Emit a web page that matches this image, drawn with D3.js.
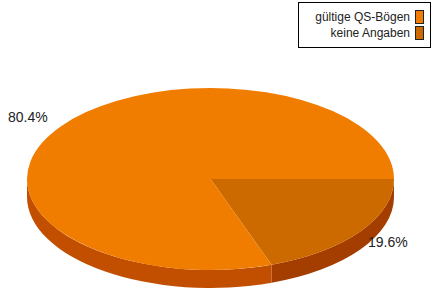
<!DOCTYPE html>
<html>
<head>
<meta charset="utf-8">
<script src="https://cdn.jsdelivr.net/npm/d3@7"></script>
<style>
  body { margin: 0; background: #fff; }
  text { font-family: "Liberation Sans", Arial, sans-serif; fill: #222; }
</style>
</head>
<body>
<svg width="433" height="290"></svg>
<script>
var categories = ["keine Angaben", "gültige QS-Bögen"];
var values = [19.6, 80.4];
var legendOrder = ["gültige QS-Bögen", "keine Angaben"];
var topColors = ["#cc6a00", "#f07d00"];
var sideColors = ["#a33d00", "#c24e00"];

var svg = d3.select("svg"),
    cx = 210.5, cy = 179,
    rx = 183.5, ry = 91,
    depth = 18;

var color = d3.scaleOrdinal().domain(categories).range(topColors);
var side = d3.scaleOrdinal().domain(categories).range(sideColors);

var pie = d3.pie()
  .sort(null)
  .startAngle(Math.PI / 2)
  .endAngle(Math.PI / 2 + 2 * Math.PI)
  .value(d => d.value);

var arcs = pie(categories.map((c, i) => ({ name: c, value: values[i] })));

function pt(a, dy) {
  return [cx + rx * Math.sin(a), cy - ry * Math.cos(a) + (dy || 0)];
}

function topPath(a0, a1) {
  var p0 = pt(a0), p1 = pt(a1), large = (a1 - a0) > Math.PI ? 1 : 0;
  return "M" + cx + "," + cy + "L" + p0 + "A" + rx + "," + ry + " 0 " + large + " 1 " + p1 + "Z";
}

function sidePath(a0, a1) {
  var p0 = pt(a0), p1 = pt(a1), q0 = pt(a0, depth), q1 = pt(a1, depth);
  var large = (a1 - a0) > Math.PI ? 1 : 0;
  return "M" + p0 + "A" + rx + "," + ry + " 0 " + large + " 1 " + p1 +
    "L" + q1 + "A" + rx + "," + ry + " 0 " + large + " 0 " + q0 + "Z";
}

// front walls (visible between 3 o'clock and 9 o'clock)
var front0 = Math.PI / 2, front1 = 3 * Math.PI / 2;
svg.append("g")
  .selectAll("path")
  .data(arcs.filter(d => d.startAngle < front1))
  .enter().append("path")
  .attr("fill", d => side(d.data.name))
  .attr("d", d => sidePath(Math.max(d.startAngle, front0), Math.min(d.endAngle, front1)));

svg.append("g")
  .selectAll("path")
  .data(arcs)
  .enter().append("path")
  .attr("fill", d => color(d.data.name))
  .attr("d", d => topPath(d.startAngle, d.endAngle));

// percentage labels
var labelPos = { "gültige QS-Bögen": [8, 122], "keine Angaben": [368, 247] };
svg.append("g")
  .selectAll("text")
  .data(arcs)
  .enter().append("text")
  .attr("x", d => labelPos[d.data.name][0])
  .attr("y", d => labelPos[d.data.name][1])
  .attr("font-size", 14)
  .text(d => d3.format(".1f")(d.data.value) + "%");

// legend
var legend = svg.append("g");
legend.append("rect")
  .attr("x", 298.5).attr("y", 2.5)
  .attr("width", 132).attr("height", 45)
  .attr("fill", "#fff").attr("stroke", "#000");

var items = legend.selectAll("g")
  .data(legendOrder)
  .enter().append("g")
  .attr("transform", (d, i) => "translate(0," + (i * 16) + ")");

items.append("text")
  .attr("x", 410).attr("y", 21)
  .attr("text-anchor", "end")
  .attr("font-size", 12)
  .text(d => d);

items.append("rect")
  .attr("x", 415.5).attr("y", 10.5)
  .attr("width", 8).attr("height", 13)
  .attr("fill", d => color(d))
  .attr("stroke", "#222");
</script>
</body>
</html>
